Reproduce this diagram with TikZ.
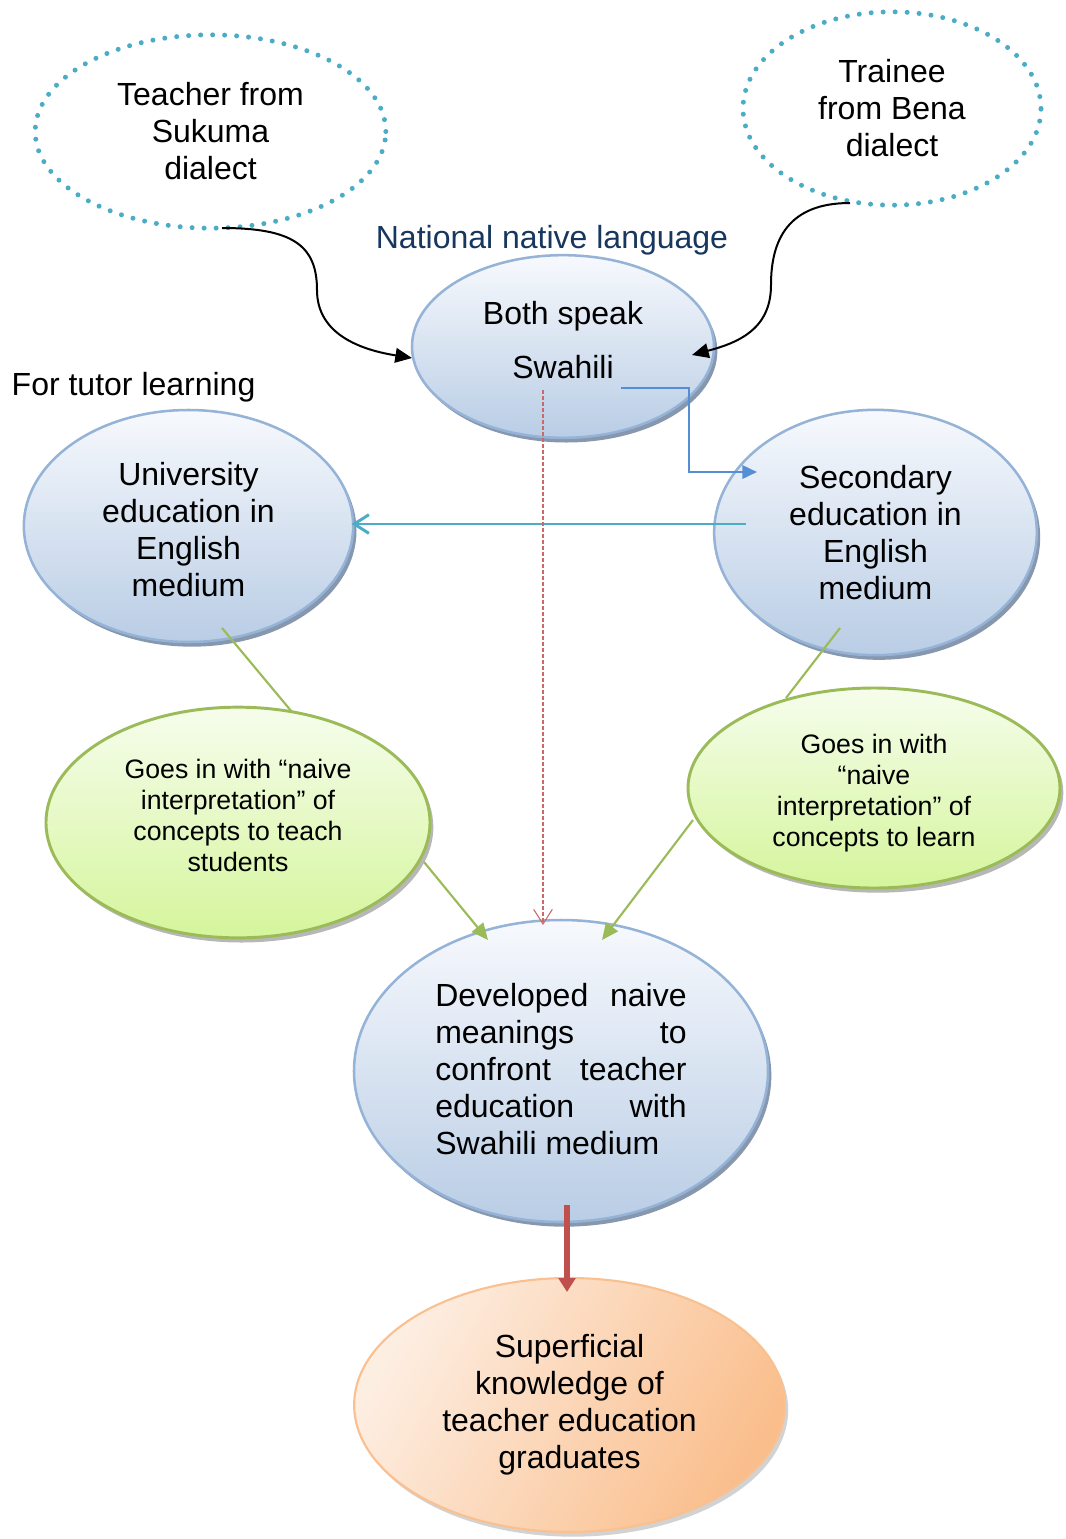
\documentclass[tikz,border=0pt]{standalone}
\usepackage{fontspec}
\setmainfont{Liberation Sans}
\usetikzlibrary{shapes.geometric,arrows.meta,shadows}

\definecolor{dotc}{HTML}{4BACC6}
\definecolor{navy}{HTML}{17375E}
\definecolor{bluebd}{HTML}{95B3D7}
\definecolor{bluetop}{HTML}{F7F9FD}
\definecolor{bluebot}{HTML}{B9CDE5}
\definecolor{blueshd}{HTML}{8797AE}
\definecolor{greenbd}{HTML}{9BBB59}
\definecolor{greentop}{HTML}{F6FDEC}
\definecolor{greenbot}{HTML}{D5F59C}
\definecolor{greenshd}{HTML}{A5A5A5}
\definecolor{orbd}{HTML}{FAC090}
\definecolor{orlight}{HTML}{FDEEE2}
\definecolor{ordark}{HTML}{FABE8C}
\definecolor{cyanarr}{HTML}{4BACC6}
\definecolor{elbowc}{HTML}{558ED5}
\definecolor{redc}{HTML}{C0504D}

% centred block of lines, moved up by #1 without changing its size
\newcommand\liftlines[2]{\raisebox{#1}[\height][\depth]{\begin{tabular}{@{}c@{}}#2\end{tabular}}}

\begin{document}
\begin{tikzpicture}[x=0.75pt,y=-0.75pt,
  big/.style={font=\fontsize{24}{27.75}\selectfont, align=center},
  small/.style={font=\fontsize{20}{23.25}\selectfont, align=center},
  dotball/.style={ellipse, draw=dotc, line width=3.75pt, dash pattern=on 0pt off 9pt,
    line cap=round, inner sep=0pt, big},
  blueball/.style={ellipse, draw=bluebd, line width=1.9pt, top color=bluetop,
    bottom color=bluebot, inner sep=0pt, big,
    drop shadow={shadow xshift=2.5pt, shadow yshift=-3.5pt, fill=blueshd, opacity=1}},
  greenball/.style={ellipse, draw=greenbd, line width=2.2pt, top color=greentop,
    bottom color=greenbot, inner sep=0pt, small,
    drop shadow={shadow xshift=2.5pt, shadow yshift=-3.5pt, fill=greenshd, opacity=0.8}},
  orangeball/.style={ellipse, draw=orbd, line width=1.6pt, left color=orlight,
    right color=ordark, shading angle=60, inner sep=0pt, big,
    drop shadow={shadow xshift=2.5pt, shadow yshift=-3.5pt, fill=greenshd, opacity=0.5}},
  curvearrow/.style={black, line width=1.5pt, -{Triangle[length=12.5pt,width=11pt]}},
  greenline/.style={greenbd, line width=1.6pt},
  greenarrow/.style={greenline, -{Triangle[length=12.5pt,width=11pt]}}
]
\useasboundingbox (0,0) rectangle (1066,1539);

% source dialects
\node[dotball, minimum width=263pt, minimum height=145pt] (teacher) at (210.5,131.5)
  {Teacher from\\Sukuma\\dialect};
\node[dotball, minimum width=223.5pt, minimum height=145pt] (trainee) at (892,108.5)
  {Trainee\\from Bena\\dialect};

% headings
\node[big, text=navy] (national) at (552,240) {National native language};
\node[big, anchor=west] (tutor) at (7,387) {For tutor learning};

% shared language
\node[blueball, minimum width=226.5pt, minimum height=137pt] (both) at (563,346.5)
  {\liftlines{1.5pt}{Both speak\\[12.75pt]Swahili}};

% education levels
\node[blueball, minimum width=247pt, minimum height=174pt] (univ) at (188.5,526)
  {\liftlines{-6pt}{University\\education in\\English\\medium}};
\node[blueball, minimum width=242pt, minimum height=184pt] (second) at (875.5,532.5)
  {Secondary\\education in\\English\\medium};

% interpretations
\node[greenball, minimum width=288pt, minimum height=173pt] (goesleft) at (238,822.5)
  {\liftlines{3pt}{Goes in with “naive\\interpretation” of\\concepts to teach\\students}};
\node[greenball, minimum width=279pt, minimum height=150pt] (goesright) at (874,788)
  {\liftlines{-4.5pt}{Goes in with\\“naive\\interpretation” of\\concepts to learn}};

% outcome
\node[blueball, minimum width=310.5pt, minimum height=226.5pt] (developed) at (561,1071)
  {\raisebox{1.5pt}[\height][\depth]{\begin{minipage}{188.5pt}\raggedright
   Developed\hfill naive\\
   meanings\hfill to\\
   confront\hfill teacher\\
   education\hfill with\\
   Swahili medium\end{minipage}}};
\node[orangeball, minimum width=323pt, minimum height=190.5pt] (superficial) at (569.5,1405)
  {Superficial\\knowledge of\\teacher education\\graduates};

% connectors
\draw[curvearrow] ([shift={(11.5,96.5)}]teacher.center)
  .. controls +(70,0) and +(0,-45) .. ++(95,62)
  .. controls +(0,45) and +(-50,-8) .. ([shift={(-151,11.5)}]both.center);
\draw[curvearrow] ([shift={(-42,94.5)}]trainee.center)
  .. controls +(-62,0) and +(0,-45) .. ++(-79,82)
  .. controls +(0,45) and +(45,-12) .. ([shift={(129,8.5)}]both.center);

\draw[elbowc, line width=1.9pt, -{Triangle[length=11pt,width=10pt]}]
  ([shift={(58,41.5)}]both.center) -- ++(68,0) |- ([shift={(-118.5,-60.5)}]second.center);

\draw[cyanarr, line width=2.2pt, -{Straight Barb[length=11pt,width=14pt]}]
  ([shift={(-129.5,-8.5)}]second.center) -- ([shift={(163,-2)}]univ.center);

\draw[redc!85, line width=0.8pt, dash pattern=on 3pt off 1.5pt,
  -{Straight Barb[length=11pt,width=14pt,line width=0.8pt]}]
  ([shift={(-20,43.5)}]both.center) -- ([shift={(-18,-146)}]developed.center);

\draw[greenline] ([shift={(33.5,102)}]univ.center) -- ([shift={(54,-110.5)}]goesleft.center);
\draw[greenarrow] ([shift={(186,39.5)}]goesleft.center) -- ([shift={(-73,-131)}]developed.center);
\draw[greenline] ([shift={(-35.5,95.5)}]second.center) -- ([shift={(-88,-90)}]goesright.center);
\draw[greenarrow] ([shift={(-181,32)}]goesright.center) -- ([shift={(41,-131)}]developed.center);

\draw[redc, line width=4.5pt, -{Triangle[length=10.5pt,width=12.5pt]}]
  ([shift={(6,134)}]developed.center) -- ([shift={(-2.5,-113)}]superficial.center);
\end{tikzpicture}
\end{document}
